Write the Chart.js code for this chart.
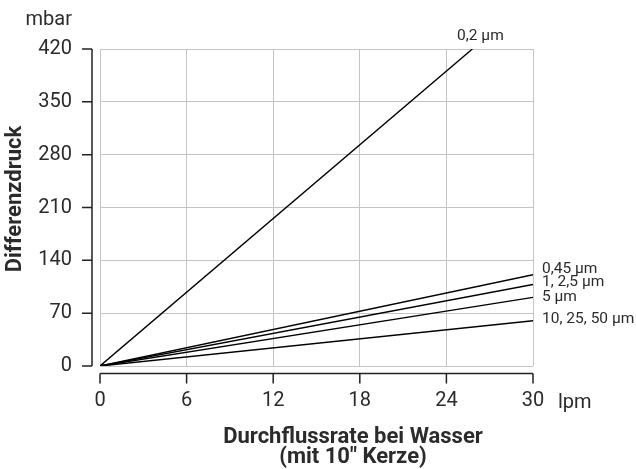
<!DOCTYPE html>
<html>
<head>
<meta charset="utf-8">
<script src="https://cdn.jsdelivr.net/npm/chart.js@4.4.1/dist/chart.umd.min.js"></script>
<style>
  html, body { margin: 0; padding: 0; background: #fff; }
  #wrap { width: 636px; height: 469px; }
</style>
</head>
<body>
<div id="wrap"><canvas id="chart" width="636" height="469"></canvas></div>
<script>
// filter types and where each line ends (flow in lpm, pressure in mbar)
const seriesLabels = ['0,2 µm', '0,45 µm', '1, 2,5 µm', '5 µm', '10, 25, 50 µm'];
const startFlow = [0, 0, 0, 0, 0];
const startPressure = [0, 0, 0, 0, 0];
const endFlow = [25.8, 30, 30, 30, 30];
const endPressure = [420, 121, 108, 91, 60];

const xTicks = [0, 6, 12, 18, 24, 30];
const yTicks = [0, 70, 140, 210, 280, 350, 420];

const FONT = 'Roboto, "Noto Sans", sans-serif';
const TEXT = '#2b2b2b';

// labels at end of lines get a little vertical nudge where they crowd
const labelNudge = [0, -6, -2, 0, -1.5];

const datasets = seriesLabels.map((name, i) => ({
  label: name,
  data: [
    { x: startFlow[i], y: startPressure[i] },
    { x: endFlow[i], y: endPressure[i] }
  ],
  showLine: true,
  borderColor: '#000',
  borderWidth: 1.4,
  pointRadius: 0,
  fill: false
}));

const decor = {
  id: 'decor',
  afterDraw(chart) {
    const { ctx, chartArea } = chart;
    const xs = chart.scales.x;
    const ys = chart.scales.y;
    ctx.save();

    // offset axis lines with outer ticks
    ctx.strokeStyle = '#222';
    ctx.lineWidth = 1.5;
    const ax = chartArea.left - 8;
    ctx.beginPath();
    ctx.moveTo(ax, ys.getPixelForValue(420));
    ctx.lineTo(ax, ys.getPixelForValue(0));
    yTicks.forEach(v => {
      const p = ys.getPixelForValue(v);
      ctx.moveTo(ax - 10, p);
      ctx.lineTo(ax, p);
    });
    const ay = chartArea.bottom + 7.5;
    ctx.moveTo(xs.getPixelForValue(0), ay);
    ctx.lineTo(xs.getPixelForValue(30), ay);
    xTicks.forEach(v => {
      const p = xs.getPixelForValue(v);
      ctx.moveTo(p, ay);
      ctx.lineTo(p, ay + 10);
    });
    ctx.stroke();

    // units
    ctx.fillStyle = TEXT;
    ctx.font = '20px ' + FONT;
    ctx.textAlign = 'right';
    ctx.textBaseline = 'alphabetic';
    ctx.fillText('mbar', 72, 25);
    ctx.textAlign = 'left';
    ctx.fillText('lpm', 558, 408);

    // line labels
    ctx.font = '15.5px ' + FONT;
    seriesLabels.forEach((name, i) => {
      const px = xs.getPixelForValue(endFlow[i]);
      const py = ys.getPixelForValue(endPressure[i]);
      if (endFlow[i] < 30) {
        ctx.textAlign = 'center';
        ctx.textBaseline = 'alphabetic';
        ctx.fillText(name, px + 8, py - 9);
      } else {
        ctx.textAlign = 'left';
        ctx.textBaseline = 'middle';
        ctx.fillText(name, px + 9, py + labelNudge[i]);
      }
    });

    // axis titles
    ctx.font = 'bold 22px ' + FONT;
    ctx.textAlign = 'center';
    ctx.textBaseline = 'alphabetic';
    ctx.fillText('Durchflussrate bei Wasser', 353, 443);
    ctx.fillText('(mit 10" Kerze)', 353, 463);

    ctx.translate(21, 199);
    ctx.rotate(-Math.PI / 2);
    ctx.fillText('Differenzdruck', 0, 0);
    ctx.restore();
  }
};

new Chart(document.getElementById('chart'), {
  type: 'scatter',
  data: { datasets },
  options: {
    responsive: false,
    animation: false,
    layout: { padding: { top: 49, right: 103, left: 0, bottom: 0 } },
    plugins: {
      legend: { display: false },
      tooltip: { enabled: false }
    },
    scales: {
      x: {
        type: 'linear',
        min: 0,
        max: 30,
        afterBuildTicks: (s) => { s.ticks = xTicks.map(v => ({ value: v })); },
        afterFit: (s) => { s.height = 103; },
        grid: { color: '#c4c4c4', lineWidth: 1, drawTicks: false },
        border: { display: false },
        ticks: {
          padding: 23,
          color: TEXT,
          font: { family: FONT, size: 20 },
          maxRotation: 0
        }
      },
      y: {
        type: 'linear',
        min: 0,
        max: 420,
        afterBuildTicks: (s) => { s.ticks = yTicks.map(v => ({ value: v })); },
        afterFit: (s) => { s.width = 100; },
        grid: { color: '#c4c4c4', lineWidth: 1, drawTicks: false },
        border: { display: false },
        ticks: {
          padding: 28,
          color: TEXT,
          font: { family: FONT, size: 20 }
        }
      }
    }
  },
  plugins: [decor]
});
</script>
</body>
</html>
